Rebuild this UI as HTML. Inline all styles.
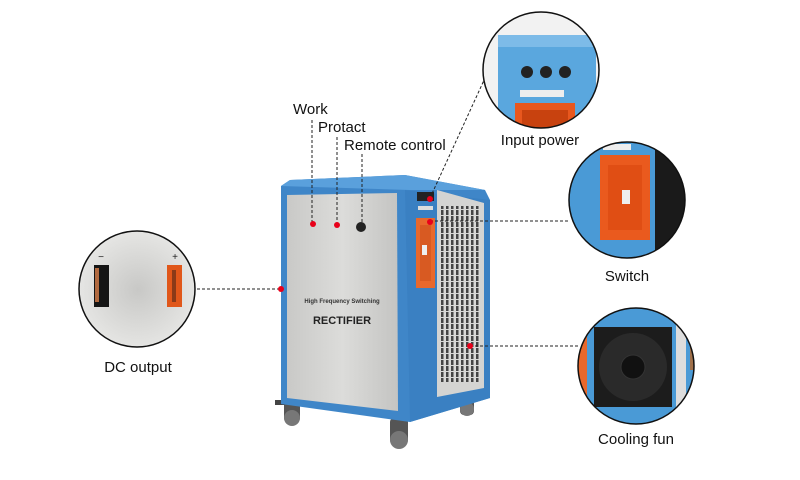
<!DOCTYPE html>
<html><head><meta charset="utf-8"><style>
html,body{margin:0;padding:0;background:#fff;}
svg{display:block;font-family:"Liberation Sans",Arial,sans-serif;}
</style></head><body>
<svg width="800" height="480" viewBox="0 0 800 480" xmlns="http://www.w3.org/2000/svg">
<defs>
<clipPath id="c1"><circle cx="541" cy="70" r="58"/></clipPath>
<clipPath id="c2"><circle cx="627" cy="200" r="58"/></clipPath>
<clipPath id="c3"><circle cx="636" cy="366" r="58"/></clipPath>
<clipPath id="c4"><circle cx="137" cy="289" r="58"/></clipPath>
<linearGradient id="gp" x1="0" x2="1"><stop offset="0" stop-color="#c9c9c7"/><stop offset="0.5" stop-color="#dcdcda"/><stop offset="1" stop-color="#c4c4c2"/></linearGradient>
<radialGradient id="gw" cx="0.5" cy="0.5" r="0.6"><stop offset="0" stop-color="#c8c8c6"/><stop offset="1" stop-color="#ececea"/></radialGradient>
<pattern id="slots" width="5" height="6" patternUnits="userSpaceOnUse"><rect width="5" height="6" fill="#d8d8d6"/><rect x="1" y="0" width="2.5" height="5" fill="#444"/></pattern>
</defs>

<!-- wheels -->
<g fill="#555"><rect x="284" y="400" width="16" height="22" rx="4"/><circle cx="292" cy="418" r="8" fill="#777"/>
<rect x="390" y="418" width="18" height="26" rx="4"/><circle cx="399" cy="440" r="9" fill="#777"/>
<rect x="460" y="395" width="14" height="20" rx="4"/><circle cx="467" cy="409" r="7" fill="#777"/></g>
<rect x="275" y="400" width="10" height="5" fill="#444"/>

<!-- cabinet -->
<polygon points="281,186 290,180 405,175 485,190 490,200 490,398 410,422 281,404" fill="#3f86c8"/>
<polygon points="281,186 290,180 405,175 485,190 410,190" fill="#5aa0dc"/>
<polygon points="405,190 490,200 490,398 410,422" fill="#3a80c2"/>
<polygon points="287,195 397,193 398,411 287,398" fill="url(#gp)"/>
<!-- side grille -->
<polygon points="437,190 484,203 484,388 437,397" fill="#d4d4d2"/>
<rect x="440" y="206" width="40" height="176" fill="url(#slots)"/>
<rect x="416" y="218" width="19" height="70" fill="#e8682c"/>
<rect x="420" y="225" width="11" height="56" fill="#d85a22"/>
<rect x="422" y="245" width="5" height="10" fill="#eee"/>
<rect x="417" y="192" width="17" height="9" fill="#222"/>
<rect x="418" y="206" width="15" height="4" fill="#ddd"/>
<!-- front text -->
<text x="342" y="303" font-size="6" text-anchor="middle" fill="#333" font-weight="bold">High Frequency Switching</text>
<text x="342" y="324" font-size="11" text-anchor="middle" fill="#222" font-weight="bold">RECTIFIER</text>
<circle cx="361" cy="227" r="5" fill="#222"/>

<!-- leader lines -->
<g stroke="#222" stroke-width="1" stroke-dasharray="3,2" fill="none">
<line x1="312" y1="120" x2="312" y2="223"/>
<line x1="337" y1="137" x2="337" y2="224"/>
<line x1="362" y1="154" x2="362" y2="224"/>
<line x1="430" y1="198" x2="485" y2="78"/>
<line x1="430" y1="221" x2="568" y2="221"/>
<line x1="470" y1="346" x2="578" y2="346"/>
<line x1="197" y1="289" x2="281" y2="289"/>
</g>
<g fill="#e8001a">
<circle cx="313" cy="224" r="3"/><circle cx="337" cy="225" r="3"/><circle cx="430" cy="199" r="3"/><circle cx="430" cy="222" r="3"/><circle cx="470" cy="346" r="3"/><circle cx="281" cy="289" r="3"/>
</g>

<!-- Input power circle -->
<g clip-path="url(#c1)">
<rect x="480" y="10" width="125" height="125" fill="#f2f2f2"/>
<rect x="498" y="35" width="98" height="100" fill="#5aa7de"/>
<rect x="498" y="35" width="98" height="12" fill="#7dbbe8"/>
<circle cx="527" cy="72" r="6" fill="#222"/><circle cx="546" cy="72" r="6" fill="#222"/><circle cx="565" cy="72" r="6" fill="#222"/>
<rect x="520" y="90" width="44" height="7" fill="#eee"/>
<rect x="515" y="103" width="60" height="30" fill="#e8571e"/>
<rect x="522" y="110" width="46" height="22" fill="#c8420f"/>
</g>
<circle cx="541" cy="70" r="58" fill="none" stroke="#111" stroke-width="1.5"/>

<!-- Switch circle -->
<g clip-path="url(#c2)">
<rect x="565" y="140" width="125" height="125" fill="#4a9ad6"/>
<rect x="655" y="140" width="35" height="125" fill="#1a1a1a"/>
<rect x="600" y="155" width="50" height="85" fill="#ea5a1e"/>
<rect x="608" y="165" width="34" height="65" fill="#e04e14"/>
<rect x="622" y="190" width="8" height="14" fill="#eee"/>
<rect x="603" y="144" width="28" height="6" fill="#eee"/>
</g>
<circle cx="627" cy="200" r="58" fill="none" stroke="#111" stroke-width="1.5"/>

<!-- Cooling circle -->
<g clip-path="url(#c3)">
<rect x="575" y="305" width="125" height="125" fill="#4a9ad6"/>
<rect x="577" y="320" width="10" height="110" fill="#e8682c"/>
<rect x="594" y="327" width="78" height="80" fill="#1c1c1c"/>
<circle cx="633" cy="367" r="34" fill="#2a2a2a"/>
<circle cx="633" cy="367" r="12" fill="#111" stroke="#333"/>
<rect x="676" y="320" width="10" height="100" fill="#ddd"/>
<rect x="690" y="340" width="10" height="30" fill="#a0704a"/>
</g>
<circle cx="636" cy="366" r="58" fill="none" stroke="#111" stroke-width="1.5"/>

<!-- DC output circle -->
<g clip-path="url(#c4)">
<rect x="78" y="230" width="120" height="120" fill="url(#gw)"/>
<rect x="94" y="265" width="15" height="42" fill="#151515"/>
<rect x="95" y="268" width="4" height="34" fill="#b26a40"/>
<rect x="167" y="265" width="15" height="42" fill="#e0571a"/>
<rect x="172" y="270" width="4" height="32" fill="#8a3a18"/>
<text x="101" y="260" font-size="10" text-anchor="middle" fill="#222">−</text>
<text x="175" y="260" font-size="10" text-anchor="middle" fill="#222">+</text>
</g>
<circle cx="137" cy="289" r="58" fill="none" stroke="#111" stroke-width="1.5"/>

<!-- labels -->
<g font-size="15" fill="#111">
<text x="293" y="114">Work</text>
<text x="318" y="132">Protact</text>
<text x="344" y="150">Remote control</text>
<text x="540" y="145" text-anchor="middle">Input power</text>
<text x="627" y="281" text-anchor="middle">Switch</text>
<text x="636" y="444" text-anchor="middle">Cooling fun</text>
<text x="138" y="372" text-anchor="middle">DC output</text>
</g>
</svg>
</body></html>
